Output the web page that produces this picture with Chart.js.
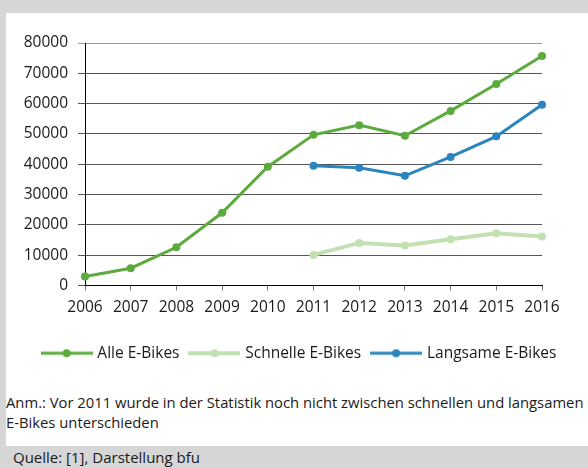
<!DOCTYPE html>
<html>
<head>
<meta charset="utf-8">
<script src="https://cdn.jsdelivr.net/npm/chart.js@4/dist/chart.umd.min.js"></script>
<style>
  html, body { margin: 0; padding: 0; background: #d6d6d6; }
  #frame { position: relative; width: 588px; height: 468px; background: #d6d6d6; overflow: hidden; font-family: "Open Sans", sans-serif; }
  #panel { position: absolute; left: 6px; top: 13px; width: 582px; height: 433px; background: #ffffff; }
  #wrap { position: absolute; left: 0; top: 0; width: 582px; height: 358px; }
  #note { position: absolute; left: 6px; top: 392px; width: 620px; font-size: 14.8px; line-height: 20px; color: #1a1a1a; white-space: nowrap; }
  #src { position: absolute; left: 13px; top: 447px; font-size: 15px; line-height: 20px; color: #1a1a1a; }
</style>
</head>
<body>
<div id="frame">
  <div id="panel">
    <div id="wrap"><canvas id="c"></canvas></div>
  </div>
  <div id="note">Anm.: Vor 2011 wurde in der Statistik noch nicht zwischen schnellen und langsamen<br>E-Bikes unterschieden</div>
  <div id="src">Quelle: [1], Darstellung bfu</div>
</div>
<script>
const years = ['2006','2007','2008','2009','2010','2011','2012','2013','2014','2015','2016'];
const alleEBikes = [3000, 5700, 12600, 24000, 39200, 49700, 52900, 49400, 57600, 66500, 75700];
const schnelleEBikes = [null, null, null, null, null, 10100, 14050, 13170, 15250, 17230, 16130];
const langsameEBikes = [null, null, null, null, null, 39500, 38850, 36200, 42400, 49200, 59600];
const seriesNames = ['Alle E-Bikes', 'Schnelle E-Bikes', 'Langsame E-Bikes'];
const seriesColors = ['#5cab3e', '#c3e0b3', '#2a84bd'];
const yTicks = [0, 10000, 20000, 30000, 40000, 50000, 60000, 70000, 80000];

function legendIcon(color, lw) {
  const cv = document.createElement('canvas');
  cv.width = 52; cv.height = 10;
  const g = cv.getContext('2d');
  g.strokeStyle = color; g.lineWidth = lw;
  g.beginPath(); g.moveTo(0, 5); g.lineTo(52, 5); g.stroke();
  g.fillStyle = color;
  g.beginPath(); g.arc(26, 5, 4, 0, Math.PI * 2); g.fill();
  return cv;
}

const FONT = { family: '"Open Sans", sans-serif', size: 15.5 };
const mk = (i, data, lw) => ({
  label: seriesNames[i], data: data,
  borderColor: seriesColors[i], backgroundColor: seriesColors[i],
  pointBackgroundColor: seriesColors[i], pointBorderColor: seriesColors[i],
  borderWidth: lw, pointRadius: 4, pointBorderWidth: 0, tension: 0, clip: false,
  spanGaps: false, yAxisID: 'y'
});

new Chart(document.getElementById('c'), {
  type: 'line',
  data: {
    labels: years,
    datasets: [mk(0, alleEBikes, 3), mk(1, schnelleEBikes, 4), mk(2, langsameEBikes, 3)]
  },
  options: {
    responsive: true, maintainAspectRatio: false, animation: false,
    layout: { padding: { top: 30, right: 0, left: 6, bottom: 0 } },
    plugins: {
      tooltip: { enabled: false },
      legend: {
        position: 'bottom',
        labels: {
          usePointStyle: true, pointStyleWidth: 46, padding: 12,
          color: '#1a1a1a', font: FONT,
          generateLabels: (chart) => chart.data.datasets.map((d, i) => ({
            text: d.label, datasetIndex: i, hidden: false,
            pointStyle: legendIcon(seriesColors[i], i === 1 ? 4 : 3),
            fillStyle: seriesColors[i], strokeStyle: seriesColors[i], lineWidth: 0,
            fontColor: '#1a1a1a'
          }))
        }
      }
    },
    scales: {
      x: {
        offset: false,
        grid: { drawOnChartArea: false, drawTicks: true, tickLength: 5, color: '#7a7a7a' },
        border: { display: true, color: '#000000', width: 1 },
        ticks: { color: '#1a1a1a', font: FONT, padding: 8, maxRotation: 0, autoSkip: false },
        afterFit: (s) => { s.height = 48; }
      },
      y: {
        position: 'left',
        min: 0, max: 80000,
        afterBuildTicks: (s) => { s.ticks = yTicks.map(v => ({ value: v })); },
        grid: { color: (c) => c.tick && c.tick.value === 80000 ? '#999999' : '#555555', lineWidth: 1, tickLength: 7, drawTicks: true },
        border: { display: true, color: '#000000', width: 1 },
        ticks: { color: '#1a1a1a', font: FONT, padding: 10, callback: (v) => String(v) },
        afterFit: (s) => { s.width = 73; }
      },
      yRight: {
        position: 'right',
        display: true,
        min: 0, max: 80000,
        grid: { display: false, drawTicks: false },
        border: { display: false },
        ticks: { display: false },
        afterFit: (s) => { s.width = 46; }
      }
    }
  }
});
</script>
</body>
</html>
